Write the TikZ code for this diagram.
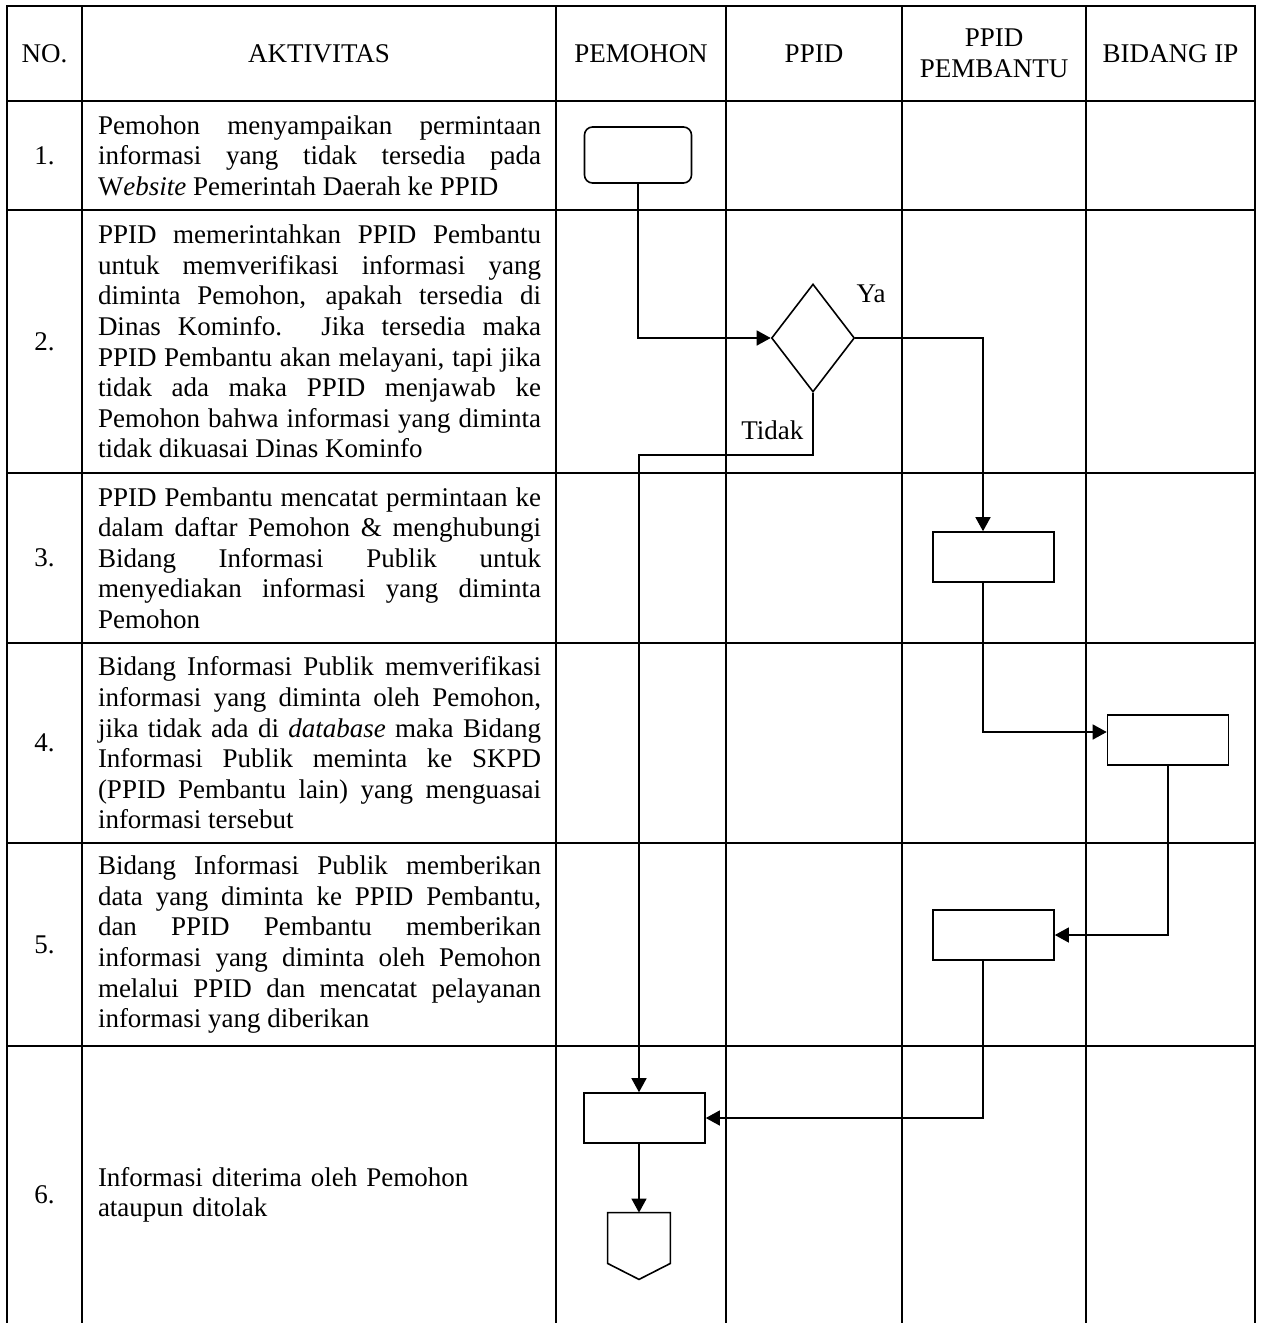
\documentclass[tikz,border=0pt]{standalone}
\usepackage{fontspec}
\setmainfont{Liberation Serif}
\usetikzlibrary{positioning, shapes.geometric, arrows.meta}
\hyphenpenalty=10000
\exhyphenpenalty=10000
\tolerance=10000

\begin{document}
\begin{tikzpicture}[x=0.5pt,y=-0.5pt,
  txt/.style={font=\fontsize{13.5}{15.3}\selectfont, inner sep=0pt},
  act/.style={txt, text width=221.5pt, align=justify},
  tabline/.style={line width=1.1pt, line cap=rect},
  proc/.style={draw, line width=0.8pt, minimum width=60.5pt, minimum height=25pt, inner sep=0pt},
  decision/.style={draw, diamond, line width=0.8pt, minimum width=41.5pt, minimum height=54pt, inner sep=0pt},
  flow/.style={line width=0.7pt, -{Triangle[length=7pt,width=7.5pt]}}]
\useasboundingbox (0,0) rectangle (1263,1323);

% table grid
\foreach \x in {7,82,556,726,902,1086,1255}
  \draw[tabline] (\x,6) -- (\x,1323);
\foreach \y in {6,101,210,473,643,843,1046}
  \draw[tabline] (7,\y) -- (1255,\y);

% header
\node[txt] (hno) at (44.5,53.5) {NO.};
\node[txt] (hakt) at (319,53.5) {AKTIVITAS};
\node[txt] (hpem) at (641,53.5) {PEMOHON};
\node[txt] (hppid) at (814,53.5) {PPID};
\node[txt, align=center] (hpb) at (994,53.5) {PPID\\PEMBANTU};
\node[txt] (hbid) at (1170.5,53.5) {BIDANG IP};

\foreach \n/\y in {1/155.5,2/341.5,3/558,4/743,5/944.5,6/1195}
  \node[txt] (no\n) at (44.5,\y) {\n.};

% aktivitas
\node[act] (akt1) at (319.5,155.5) {Pemohon menyampaikan permintaan\linebreak
  informasi yang tidak tersedia pada\linebreak
  W\textit{ebsite} Pemerintah Daerah ke PPID};
\node[act] (akt2) at (319.5,341.5) {PPID memerintahkan PPID Pembantu\linebreak
  untuk memverifikasi informasi yang\linebreak
  diminta Pemohon, apakah tersedia di\linebreak
  Dinas Kominfo. Jika tersedia maka\linebreak
  PPID Pembantu akan melayani, tapi jika\linebreak
  tidak ada maka PPID menjawab ke\linebreak
  Pemohon bahwa informasi yang diminta\linebreak
  tidak dikuasai Dinas Kominfo};
\node[act] (akt3) at (319.5,558) {PPID Pembantu mencatat permintaan ke\linebreak
  dalam daftar Pemohon \& menghubungi\linebreak
  Bidang Informasi Publik untuk\linebreak
  menyediakan informasi yang diminta\linebreak
  Pemohon};
\node[act] (akt4) at (319.5,743) {Bidang Informasi Publik memverifikasi\linebreak
  informasi yang diminta oleh Pemohon,\linebreak
  jika tidak ada di \textit{database} maka Bidang\linebreak
  Informasi Publik meminta ke SKPD\linebreak
  (PPID Pembantu lain) yang menguasai\linebreak
  informasi tersebut};
\node[act] (akt5) at (319.5,944.5) {Bidang Informasi Publik memberikan\linebreak
  data yang diminta ke PPID Pembantu,\linebreak
  dan PPID Pembantu memberikan\linebreak
  informasi yang diminta oleh Pemohon\linebreak
  melalui PPID dan mencatat pelayanan\linebreak
  informasi yang diberikan};
\node[act, align=left] (akt6) at (319.5,1195) {Informasi diterima oleh Pemohon\\
  ataupun ditolak};

% alur
\node[proc, rounded corners=4pt, minimum width=53.5pt, minimum height=28pt] (mulai) at (638,155) {};
\node[decision] (cek) at (813,338) {};
\node[proc] (catat) at (993.5,557) {};
\node[proc] (verif) at (1168,740) {};
\node[proc] (beri) at (993.5,935) {};
\node[proc] (terima) at (644.5,1118) {};
\node[minimum width=31pt, minimum height=25pt, inner sep=0pt] (akhir) at (639,1238) {};
\draw[line width=0.8pt] (akhir.north west) -- (akhir.north east) -- (akhir.south east)
  -- ([yshift=-8pt]akhir.south) -- (akhir.south west) -- cycle;

\draw[flow] (mulai.south) |- (cek.west);
\draw[flow] (cek.east) -| ([xshift=-5.25pt]catat.north);
\node[txt, above right=17.5pt and 0.5pt of cek.east] (ya) {Ya};
\draw[flow] (cek.south) -- node[txt, pos=0.6, left=4.5pt] (tidak) {Tidak} ++(0,62)
  -| ([xshift=-2.75pt]terima.north);
\draw[flow] ([xshift=-5.25pt]catat.south) |- ([yshift=4pt]verif.west);
\draw[flow] (verif.south) |- (beri.east);
\draw[flow] ([xshift=-5.25pt]beri.south) |- (terima.east);
\draw[flow] ([xshift=-2.75pt]terima.south) -- (akhir.north);
\end{tikzpicture}
\end{document}
